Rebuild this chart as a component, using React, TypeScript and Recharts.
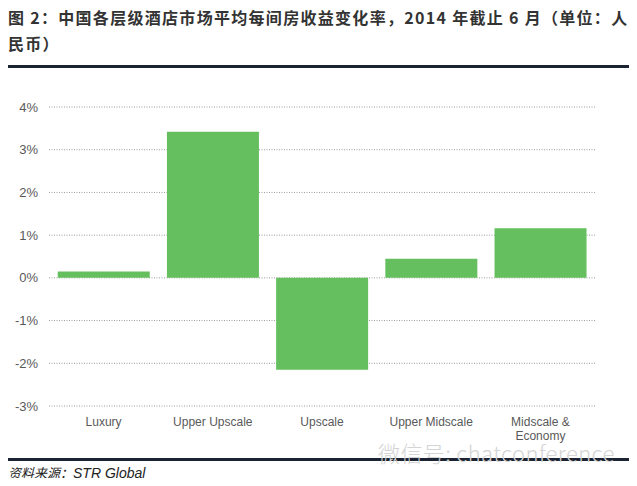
import React from "react";
import { BarChart, Bar, XAxis, YAxis, CartesianGrid } from "recharts";

// RevPAR change by hotel class, China, YTD June 2014 (CNY)
const categories = ["Luxury", "Upper Upscale", "Upscale", "Upper Midscale", "Midscale & Economy"];
const revparChange = [0.15, 3.42, -2.15, 0.45, 1.16];
const yTicks = [-3, -2, -1, 0, 1, 2, 3, 4];

const data = categories.map((name, i) => ({ name, value: revparChange[i] }));

const labelFont = "'Liberation Sans', Arial, sans-serif";
const cjkFont = "'Noto Sans CJK SC', 'Noto Sans', sans-serif";

type TickProps = {
  x?: number;
  y?: number;
  payload?: { value: string };
};

const CategoryTick = ({ x = 0, y = 0, payload }: TickProps) => {
  const label = payload ? payload.value : "";
  // long label wraps after the ampersand, as in the source figure
  const lines = label.includes("& ") ? label.replace("& ", "&\n").split("\n") : [label];
  return (
    <text x={x} y={y} textAnchor="middle" fill="#595959" fontSize={12} fontFamily={labelFont}>
      {lines.map((line, i) => (
        <tspan key={i} x={x} dy={i === 0 ? 12 : 14}>
          {line}
        </tspan>
      ))}
    </text>
  );
};

export default function App() {
  return (
    <div style={{ position: "relative", width: 637, height: 486, margin: -8, background: "#fff", overflow: "hidden" }}>
      <div
        style={{
          position: "absolute",
          left: 8,
          top: 4,
          fontFamily: cjkFont,
          fontWeight: 700,
          fontSize: 16,
          letterSpacing: 1.3,
          lineHeight: "26px",
          color: "#333",
          whiteSpace: "nowrap",
        }}
      >
        <div>图 2：中国各层级酒店市场平均每间房收益变化率，2014 年截止 6 月（单位：人</div>
        <div>民币）</div>
      </div>
      <div style={{ position: "absolute", left: 5, top: 65, width: 626, height: 3, background: "#1c2433" }} />

      <div style={{ position: "absolute", left: 0, top: 0 }}>
        <BarChart
          width={637}
          height={486}
          data={data}
          margin={{ top: 107, right: 42, left: 0, bottom: 0 }}
          barCategoryGap="8%"
        >
          <CartesianGrid vertical={false} stroke="#9a9a9a" strokeDasharray="1 1.5" />
          <XAxis
            dataKey="name"
            height={80}
            axisLine={false}
            tickLine={false}
            interval={0}
            tick={<CategoryTick />}
          />
          <YAxis
            width={49}
            domain={[-3, 4]}
            ticks={yTicks}
            axisLine={false}
            tickLine={false}
            tickMargin={5}
            tickFormatter={(v: number) => `${v}%`}
            tick={{ fill: "#595959", fontSize: 13, fontFamily: labelFont }}
          />
          <Bar dataKey="value" fill="#65bf5e" isAnimationActive={false} />
        </BarChart>
      </div>

      <div style={{ position: "absolute", left: 5, top: 458, width: 626, height: 3, background: "#1c2433" }} />
      <div
        style={{
          position: "absolute",
          left: 378,
          top: 439,
          fontFamily: cjkFont,
          fontWeight: 300,
          fontSize: 22,
          letterSpacing: 0.4,
          lineHeight: "26px",
          color: "#d4d4d4",
          whiteSpace: "nowrap",
        }}
      >
        微信号: chatconference
      </div>
      <div
        style={{
          position: "absolute",
          left: 8,
          top: 465,
          fontStyle: "italic",
          fontSize: 13,
          lineHeight: "16px",
          color: "#222",
          whiteSpace: "nowrap",
        }}
      >
        <span style={{ fontFamily: cjkFont }}>资料来源：</span>
        <span style={{ fontFamily: labelFont, fontSize: 14 }}>STR Global</span>
      </div>
    </div>
  );
}
